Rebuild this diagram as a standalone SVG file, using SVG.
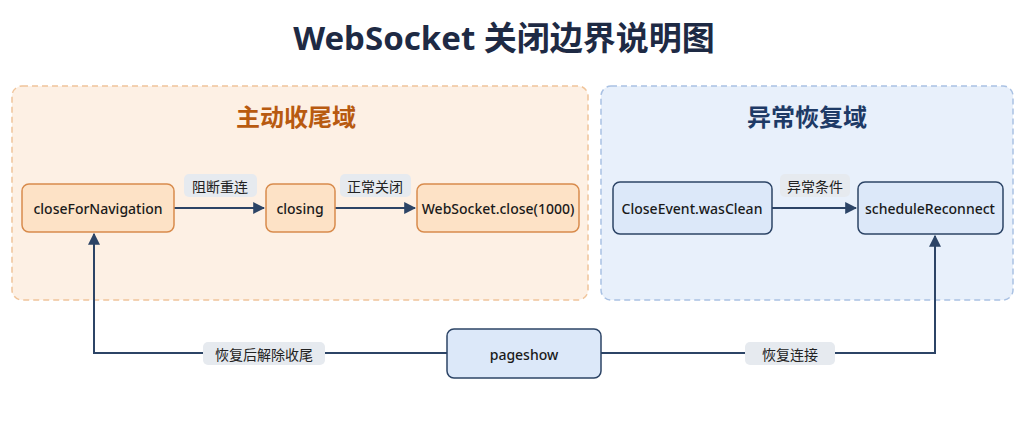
<svg xmlns="http://www.w3.org/2000/svg" width="1024" height="427" viewBox="0 0 1024 427">
<style>
text{font-family:"Noto Sans","Noto Sans CJK SC",sans-serif;text-anchor:middle;dominant-baseline:central}
.o rect{fill:#fde2c6;stroke:#d88b4c;stroke-width:1.5}
.b rect{fill:#dce8f9;stroke:#2c4466;stroke-width:1.5}
.n{font-size:14px;font-weight:500;fill:#1a1a1a}
.lb rect{fill:#e6eaef}
.lb text{font-size:14px;fill:#222}
.e{fill:none;stroke:#2c4466;stroke-width:2;marker-end:url(#a)}
</style>
<defs><marker id="a" viewBox="0 0 10 10" refX="9" refY="5" markerWidth="6" markerHeight="6" orient="auto"><path d="M0,0L10,5L0,10z" fill="#2c4466"/></marker></defs>
<rect width="1024" height="427" fill="#fff"/>
<text x="504" y="37" font-size="33" font-weight="bold" fill="#1e2a44">WebSocket 关闭边界说明图</text>
<g id="zone-left"><rect x="12" y="86" width="576" height="214" rx="10" fill="#fdf0e4" stroke="#f0c49a" stroke-dasharray="6 4" stroke-width="1.5"/><text x="296" y="116" font-size="24" font-weight="bold" fill="#b85a10">主动收尾域</text></g>
<g id="zone-right"><rect x="601" y="86" width="412" height="214" rx="10" fill="#e8f0fb" stroke="#a9c1e3" stroke-dasharray="6 4" stroke-width="1.5"/><text x="807" y="116" font-size="24" font-weight="bold" fill="#1e3a66">异常恢复域</text></g>
<g id="connectors">
<path class="e" d="M174,208H264"/><path class="e" d="M335,208H415"/><path class="e" d="M772,208H856"/>
<path class="e" d="M447,353H94V234"/><path class="e" d="M601,353H935V236"/>
<g class="lb"><rect x="184" y="174" width="73" height="23" rx="5"/><text x="220" y="186">阻断重连</text></g>
<g class="lb"><rect x="340" y="174" width="71" height="23" rx="5"/><text x="375" y="186">正常关闭</text></g>
<g class="lb"><rect x="780" y="174" width="70" height="23" rx="5"/><text x="815" y="186">异常条件</text></g>
<g class="lb"><rect x="203" y="342" width="122" height="23" rx="5"/><text x="264" y="354">恢复后解除收尾</text></g>
<g class="lb"><rect x="745" y="342" width="90" height="23" rx="5"/><text x="790" y="354">恢复连接</text></g>
</g>
<g id="closeForNavigation" class="o"><rect x="22" y="184" width="152" height="48" rx="7"/><text class="n" x="98" y="208">closeForNavigation</text></g>
<g id="closing" class="o"><rect x="266" y="184" width="69" height="48" rx="7"/><text class="n" x="300" y="208">closing</text></g>
<g id="wsclose" class="o"><rect x="417" y="184" width="162" height="48" rx="7"/><text class="n" x="498" y="208">WebSocket.close(1000)</text></g>
<g id="wasClean" class="b"><rect x="613" y="182" width="159" height="52" rx="7"/><text class="n" x="692" y="208">CloseEvent.wasClean</text></g>
<g id="scheduleReconnect" class="b"><rect x="858" y="182" width="145" height="52" rx="7"/><text class="n" x="930" y="208">scheduleReconnect</text></g>
<g id="pageshow" class="b"><rect x="447" y="329" width="154" height="49" rx="7"/><text class="n" x="524" y="354">pageshow</text></g>
</svg>
